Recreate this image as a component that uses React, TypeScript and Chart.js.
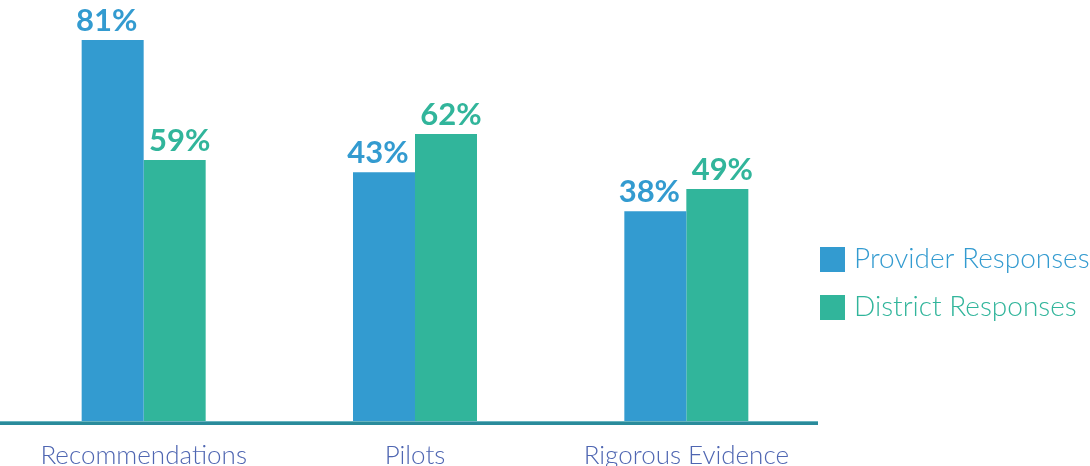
import React, { useEffect, useRef } from "react";
import { Chart, registerables } from "chart.js";

Chart.register(...registerables);

const categories = ["Recommendations", "Pilots", "Rigorous Evidence"];
const seriesNames = ["Provider Responses", "District Responses"];
// bar heights as drawn in the picture (percent units)
const providerBarHeights = [81, 52.9, 44.6];
const districtBarHeights = [55.5, 61, 49.3];
// printed value labels
const providerLabels = ["81%", "43%", "38%"];
const districtLabels = ["59%", "62%", "49%"];

const BLUE = "#339bd0";
const GREEN = "#31b59b";
const AXIS = "#2a8b9b";
const CAT_COLOR = "#4f66b2";

const overlayPlugin = {
  id: "overlay",
  afterDatasetsDraw(chart: any) {
    const ctx = chart.ctx;
    const area = chart.chartArea;
    ctx.save();
    // axis line
    ctx.fillStyle = AXIS;
    ctx.fillRect(0, area.bottom, 818, 4);
    ctx.fillStyle = "rgba(120,190,200,0.8)";
    ctx.fillRect(0, area.bottom, 818, 1);
    // value labels
    const labelSets = [providerLabels, districtLabels];
    const colors = [BLUE, GREEN];
    const shifts = [-6, 5];
    ctx.font = "bold 31px Lato";
    ctx.textAlign = "center";
    ctx.textBaseline = "alphabetic";
    chart.data.datasets.forEach((_: any, di: number) => {
      const meta = chart.getDatasetMeta(di);
      meta.data.forEach((bar: any, i: number) => {
        ctx.fillStyle = colors[di];
        ctx.fillText(labelSets[di][i], bar.x + shifts[di], bar.y - 9);
      });
    });
    // legend
    ctx.textAlign = "left";
    ctx.textBaseline = "alphabetic";
    ctx.font = "300 28px Lato";
    seriesNames.forEach((name, i) => {
      const y = 247 + i * 48;
      ctx.fillStyle = colors[i];
      ctx.fillRect(820, y, 25, 25);
      ctx.fillText(name, 854, y + 21);
    });
    ctx.restore();
  },
};

export default function App() {
  const ref = useRef<HTMLCanvasElement>(null);
  useEffect(() => {
    if (!ref.current) return;
    const chart = new Chart(ref.current, {
      type: "bar",
      data: {
        labels: categories,
        datasets: [
          {
            label: seriesNames[0],
            data: providerBarHeights,
            backgroundColor: BLUE,
            categoryPercentage: 0.457,
            barPercentage: 1,
          },
          {
            label: seriesNames[1],
            data: districtBarHeights,
            backgroundColor: GREEN,
            categoryPercentage: 0.457,
            barPercentage: 1,
          },
        ],
      },
      options: {
        responsive: false,
        animation: false,
        layout: { padding: { left: 8, right: 268, top: 0, bottom: 0 } },
        plugins: {
          legend: { display: false },
          tooltip: { enabled: false },
        },
        scales: {
          x: {
            grid: { display: false, drawTicks: false },
            border: { display: false },
            ticks: {
              color: CAT_COLOR,
              font: { family: "Lato", size: 26, weight: "300" },
              padding: 19,
            },
            afterFit(scale: any) {
              scale.height = 45;
            },
          },
          y: {
            display: false,
            min: 0,
            max: 89.5,
          },
        },
      },
      plugins: [overlayPlugin],
    });
    return () => chart.destroy();
  }, []);
  return (
    <div style={{ position: "absolute", left: 0, top: 0, width: 1090, height: 466, background: "#fff" }}>
      <canvas ref={ref} width={1090} height={466} />
    </div>
  );
}
